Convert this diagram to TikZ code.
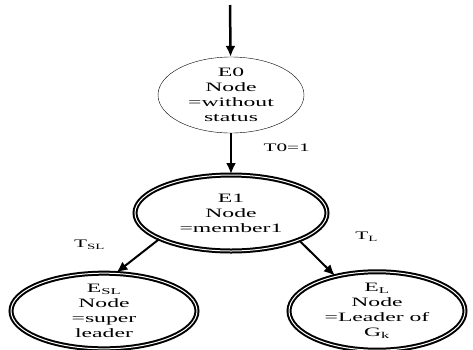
\documentclass[tikz,border=0pt]{standalone}
\usepackage{fontspec}
\setmainfont[FakeStretch=1.85]{Liberation Serif}
\usetikzlibrary{shapes,arrows,arrows.meta,positioning}
\tikzstyle{state} = [ellipse, draw, thin, align=center, inner sep=0pt,
    font=\fontsize{12.8}{15}\selectfont]
\tikzstyle{final} = [state, line width=2pt, double, double distance=1pt]
\tikzstyle{line} = [draw, -{Latex[length=11pt,width=10pt]}, line width=2.5pt]
\tikzstyle{tlabel} = [font=\fontsize{11.5}{12}\selectfont]

\begin{document}
\begin{tikzpicture}[x=1pt, y=1pt, on grid, auto]
	\useasboundingbox (0,0) rectangle (473,-349);

		\coordinate (in) at (230,-5);
		\node [state, minimum width=146pt, minimum height=76pt] (e0) at (231,-95) {E0\\Node\\=without\\status};

		\node [final, below=118pt of e0, minimum width=192pt, minimum height=76pt] (e1) {E1\\Node\\=member1};

		\node [final, below left=98pt and 127pt of e1, minimum width=186pt, minimum height=62pt] (esl) {E\textsubscript{SL}\\Node\\=super\\leader};
		\node [final, below right=98pt and 146pt of e1, minimum width=176pt, minimum height=62pt] (el) {E\textsubscript{L}\\Node\\=Leader of\\G\textsubscript{k}};

		\path [line] (in) -- (e0);
		\path [line] (e0) -- node [tlabel, pos=0.35, anchor=west, xshift=28pt] {T0=1} (e1);
		\path [line, line width=2pt] (e1.200) -- node [tlabel, xshift=-68pt, yshift=20pt] {T\textsubscript{SL}} (esl.72);
		\path [line, line width=2pt] (e1.338) -- node [tlabel, xshift=34pt, yshift=12pt] {T\textsubscript{L}} (el.140);
	\end{tikzpicture}
\end{document}
